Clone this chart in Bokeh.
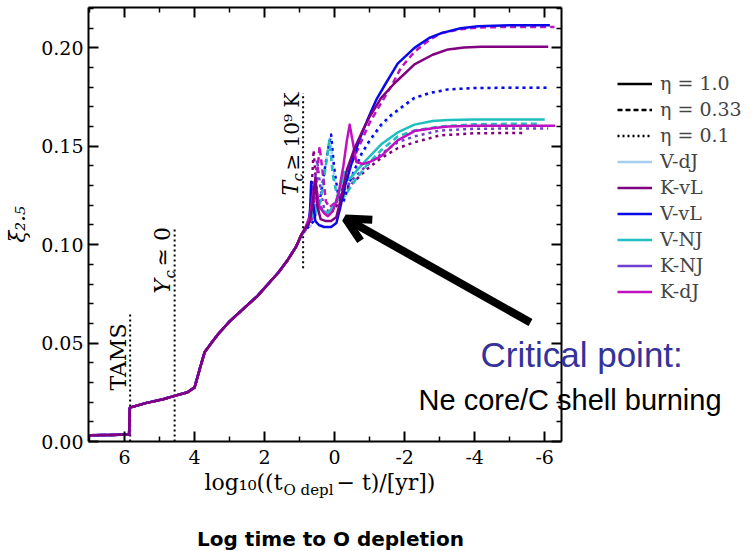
import numpy as np
from bokeh.plotting import figure
from bokeh.models import (Range1d, LinearAxis, FixedTicker, PrintfTickFormatter,
                          Legend, LegendItem, Label, Arrow, OpenHead)
from bokeh.embed import file_html
from bokeh.resources import INLINE

# ---------------- data ----------------
x_ticks = [6, 4, 2, 0, -2, -4, -6]
x_minor = [7, 5, 3, 1, -1, -3, -5]
y_ticks = [0.0, 0.05, 0.10, 0.15, 0.20]
y_minor = [0.01, 0.02, 0.03, 0.04, 0.06, 0.07, 0.08, 0.09, 0.11, 0.12, 0.13, 0.14,
           0.16, 0.17, 0.18, 0.19, 0.21, 0.22]

# common early evolution (all models overlap)
base_x = [7.0, 6.4, 5.87, 5.85, 5.4, 4.9, 4.57, 4.2, 4.0, 3.85, 3.71, 3.5, 3.33, 3.0,
          2.57, 2.2, 1.9, 1.6, 1.33, 1.1, 0.95]
base_y = [0.0032, 0.0033, 0.0035, 0.0172, 0.0195, 0.0215, 0.0232, 0.0250, 0.0275, 0.037,
          0.0455, 0.0505, 0.0545, 0.061, 0.068, 0.074, 0.080, 0.086, 0.0925, 0.099, 0.105]

# late evolution, per model / eta
vvl_1_x = [0.85, 0.75, 0.70, 0.67, 0.62, 0.55, 0.45, 0.3, 0.1, -0.05, -0.15, -0.3, -0.48,
           -0.7, -0.95, -1.2, -1.43, -1.8, -2.28, -2.7, -3.05, -3.6, -4.1, -5.0, -6.15]
vvl_1_y = [0.108, 0.110, 0.118, 0.132, 0.122, 0.112, 0.110, 0.109, 0.109, 0.111, 0.118,
           0.130, 0.141, 0.153, 0.164, 0.174, 0.181, 0.192, 0.200, 0.205, 0.2075, 0.210,
           0.211, 0.2115, 0.2115]

kvl_1_x = [0.85, 0.7, 0.60, 0.55, 0.50, 0.4, 0.25, 0.1, -0.05, -0.2, -0.35, -0.57, -0.8,
           -1.0, -1.33, -1.71, -2.28, -2.8, -3.24, -3.7, -4.19, -5.0, -6.1]
kvl_1_y = [0.108, 0.112, 0.125, 0.134, 0.120, 0.113, 0.112, 0.112, 0.114, 0.125, 0.138,
           0.149, 0.158, 0.165, 0.1746, 0.182, 0.1916, 0.1965, 0.1992, 0.2002, 0.2006,
           0.2006, 0.2006]

kdj_1_x = [0.85, 0.7, 0.6, 0.55, 0.45, 0.3, 0.19, 0.05, -0.1, -0.25, -0.35, -0.43, -0.52,
           -0.62, -0.8, -1.0, -1.33, -1.8, -2.28, -2.8, -3.24, -4.0, -5.0, -6.3]
kdj_1_y = [0.108, 0.115, 0.128, 0.133, 0.120, 0.116, 0.1145, 0.117, 0.125, 0.140, 0.153,
           0.161, 0.152, 0.142, 0.141, 0.142, 0.145, 0.153, 0.1577, 0.1592, 0.160, 0.1604,
           0.1604, 0.1604]

vnj_1_x = [0.85, 0.7, 0.55, 0.4, 0.2, 0.0, -0.15, -0.28, -0.4, -0.6, -0.9, -1.33, -1.8,
           -2.28, -2.8, -3.24, -4.0, -5.0, -6.0]
vnj_1_y = [0.108, 0.112, 0.120, 0.118, 0.116, 0.120, 0.128, 0.137, 0.133, 0.137, 0.143,
           0.151, 0.157, 0.161, 0.1628, 0.1633, 0.1636, 0.1636, 0.1636]

vnj_033_x = [0.85, 0.6, 0.4, 0.25, 0.15, 0.05, -0.1, -0.3, -0.6, -0.9, -1.33, -1.8, -2.28,
             -3.0, -4.0, -5.0, -5.85]
vnj_033_y = [0.108, 0.114, 0.122, 0.140, 0.153, 0.135, 0.122, 0.125, 0.133, 0.140, 0.148,
             0.155, 0.158, 0.160, 0.1612, 0.1614, 0.1614]

kdj_033_x = [0.85, 0.65, 0.5, 0.43, 0.35, 0.25, 0.15, 0.0, -0.2, -0.4, -0.7, -1.0, -1.33,
             -1.6, -1.9, -2.28, -2.7, -3.05, -3.6, -4.2, -5.0, -6.28]
kdj_033_y = [0.108, 0.113, 0.135, 0.150, 0.138, 0.122, 0.119, 0.121, 0.128, 0.138, 0.150,
             0.162, 0.172, 0.180, 0.190, 0.198, 0.204, 0.2075, 0.2095, 0.2104, 0.2106, 0.2106]

vvl_01_x = [0.85, 0.6, 0.4, 0.25, 0.15, 0.10, 0.02, -0.1, -0.25, -0.45, -0.76, -1.0, -1.33,
            -1.62, -2.0, -2.28, -2.7, -3.24, -4.0, -5.0, -6.05]
vvl_01_y = [0.107, 0.112, 0.125, 0.142, 0.152, 0.156, 0.140, 0.125, 0.122, 0.133, 0.146,
            0.153, 0.161, 0.166, 0.171, 0.1746, 0.177, 0.1789, 0.1796, 0.1797, 0.1797]

vdj_01_x = [0.85, 0.6, 0.4, 0.28, 0.18, 0.12, 0.04, -0.1, -0.25, -0.45, -0.76, -1.0, -1.33,
            -1.62, -2.0, -2.28, -2.7, -3.24, -4.0, -5.0, -6.1]
vdj_01_y = [0.107, 0.111, 0.122, 0.138, 0.150, 0.154, 0.138, 0.124, 0.121, 0.131, 0.145,
            0.152, 0.160, 0.165, 0.1705, 0.174, 0.1768, 0.1788, 0.1796, 0.1798, 0.1798]

knj_01_x = [0.85, 0.65, 0.5, 0.4, 0.3, 0.15, 0.0, -0.2, -0.5, -0.9, -1.33, -1.8, -2.28,
            -3.0, -4.0, -5.0, -6.1]
knj_01_y = [0.107, 0.115, 0.143, 0.128, 0.118, 0.117, 0.120, 0.126, 0.133, 0.140, 0.146,
            0.152, 0.155, 0.158, 0.1589, 0.159, 0.159]

kvl_01_x = [0.85, 0.7, 0.6, 0.5, 0.35, 0.2, 0.0, -0.2, -0.5, -0.9, -1.33, -1.8, -2.28,
            -3.0, -4.0, -5.47]
kvl_01_y = [0.107, 0.113, 0.148, 0.125, 0.117, 0.116, 0.118, 0.124, 0.131, 0.138, 0.144,
            0.149, 0.152, 0.1555, 0.1566, 0.1568]

# vertical phase markers
marker_x = [5.84, 4.57, 0.90]
marker_bottom = [0.0, 0.0, 0.088]
marker_top = [0.065, 0.108, 0.177]

model_names = ["V-dJ", "K-vL", "V-vL", "V-NJ", "K-NJ", "K-dJ"]
model_colors = ["#a6cdf2", "#800080", "#0a0ae8", "#1fbfbf", "#6e3fd0", "#c010c0"]
eta_names = ["η = 1.0", "η = 0.33", "η = 0.1"]

# ---------------- geometry ----------------
W, H = 753, 551
# data box (axes rectangle) in page pixels
BX0, BX1, BY0, BY1 = 88, 561, 441, 7
DX0, DX1, DY0, DY1 = 7.03, -6.48, 0.0, 0.2205
SX = (DX1 - DX0) / (BX1 - BX0)
SY = (DY1 - DY0) / (BY1 - BY0)
XL, XR = DX0 - BX0 * SX, DX0 + (W - BX0) * SX
YB, YT = DY0 + (H - BY0) * SY, DY0 - BY0 * SY


def px_to_x(px):
    return DX0 + (px - BX0) * SX


def px_to_y(py):
    return DY0 + (py - BY0) * SY


p = figure(width=W, height=H, min_border=0, x_axis_location=None, y_axis_location=None,
           x_range=Range1d(XL, XR), y_range=Range1d(YB, YT),
           output_backend="svg", toolbar_location=None)
p.grid.visible = False
p.outline_line_color = None
p.background_fill_color = "white"
p.border_fill_color = "white"


def make_axis(side, loc, bounds, ticks, minor, fmt, labels):
    ax = LinearAxis(fixed_location=loc, bounds=bounds,
                    ticker=FixedTicker(ticks=ticks, minor_ticks=minor),
                    formatter=PrintfTickFormatter(format=fmt))
    ax.axis_line_width = 2
    ax.axis_line_color = "black"
    ax.major_tick_in = 10
    ax.major_tick_out = 0
    ax.minor_tick_in = 5
    ax.minor_tick_out = 0
    ax.major_tick_line_width = 2
    ax.minor_tick_line_width = 1.5
    ax.major_tick_line_color = "black"
    ax.minor_tick_line_color = "black"
    ax.major_label_text_font = "DejaVu Serif"
    ax.major_label_text_font_size = "19px"
    ax.major_label_text_color = "black" if labels else None
    p.add_layout(ax, side)
    return ax


xb = (min(DX0, DX1), max(DX0, DX1))
yb = (DY0, DY1)
ax_b = make_axis("below", DY0, xb, x_ticks, x_minor, "%d", True)
ax_b.major_label_standoff = 8
ax_l = make_axis("left", DX0, yb, y_ticks, y_minor, "%.2f", True)
ax_l.major_label_standoff = 5
make_axis("above", DY1, xb, x_ticks, x_minor, "%d", False)
make_axis("right", DX1, yb, y_ticks, y_minor, "%.2f", False)

# phase markers
p.segment(x0=marker_x, y0=marker_bottom, x1=marker_x, y1=marker_top,
          line_color="black", line_width=2, line_dash="2 3")

SOLID, DASH, DOT = "solid", "6 4", "3 4"
series = [
    (vdj_01_x, vdj_01_y, "#a6cdf2", DOT, 0),
    (vvl_01_x, vvl_01_y, "#0a0ae8", DOT, 3),
    (kvl_01_x, kvl_01_y, "#800080", DOT, 0),
    (knj_01_x, knj_01_y, "#6e3fd0", DOT, 0),
    (vnj_033_x, vnj_033_y, "#1fbfbf", DASH, 0),
    (kdj_033_x, kdj_033_y, "#c010c0", DASH, 0),
    (vnj_1_x, vnj_1_y, "#1fbfbf", SOLID, 0),
    (vvl_1_x, vvl_1_y, "#0a0ae8", SOLID, 0),
    (kdj_1_x, kdj_1_y, "#c010c0", SOLID, 0),
    (kvl_1_x, kvl_1_y, "#800080", SOLID, 0),
]
for tx, ty, col, dash, off in series:
    p.line(x=base_x + tx, y=base_y + ty, line_color=col, line_width=2.5,
           line_dash=dash, line_dash_offset=off, line_join="round")

# legend: style-only renderers (a single NaN point draws nothing in the plot)
items = []
for name, dash in zip(eta_names, [SOLID, "5 3", "2 3"]):
    r = p.line(x=[np.nan], y=[np.nan], line_color="black", line_width=2.5, line_dash=dash)
    items.append(LegendItem(label=name, renderers=[r]))
for name, col in zip(model_names, model_colors):
    r = p.line(x=[np.nan], y=[np.nan], line_color=col, line_width=2.5)
    items.append(LegendItem(label=name, renderers=[r]))

legend = Legend(items=items, location=(617, H - 302), padding=0, margin=0, spacing=4,
                glyph_width=35, glyph_height=21, label_height=21, label_standoff=8,
                label_text_font="DejaVu Serif", label_text_font_size="19px",
                background_fill_alpha=0, border_line_alpha=0)
p.add_layout(legend)

V = np.pi / 2


def lab(px, py, text, size, font="DejaVu Serif", style="normal", angle=0.0,
        align="left", color="black"):
    # (px, py) is the wanted baseline point; Bokeh anchors such labels near the
    # middle of the text, so move the anchor up (or left, when rotated).
    shift = 0.35 * size
    if angle == 0.0:
        py = py - shift
    else:
        px = px - shift
    p.add_layout(Label(x=px_to_x(px), y=px_to_y(py), text=text, text_font=font,
                       text_font_size=f"{size}px", text_font_style=style, angle=angle,
                       text_align=align, text_baseline="alphabetic", text_color=color))


# rotated phase labels
lab(126, 390, "TAMS", 22, angle=V)
lab(170, 293, "Y", 22, style="italic", angle=V)
lab(175, 278, "c", 15, style="italic", angle=V)
lab(170, 266, "≃ 0", 22, angle=V)
lab(298, 195, "T", 22, style="italic", angle=V)
lab(303, 181, "c", 15, style="italic", angle=V)
lab(298, 170, "≥ 10⁹ K", 20, angle=V)

# y axis label
lab(25, 224, "ξ₂.₅", 22, style="italic", angle=V, align="center")

# x axis label (composed)
lab(204, 490, "log₁₀((t", 22)
lab(283, 495, "O depl", 15)
lab(336, 490, "− t)/[yr])", 22)

# bottom caption
lab(330, 545, "Log time to O depletion", 20, font="DejaVu Sans", style="bold",
    align="center")

# critical point annotation
lab(480, 366, "Critical point:", 35, font="Liberation Sans", color="#33339a")
lab(418, 410, "Ne core/C shell burning", 29, font="Liberation Sans")

p.add_layout(Arrow(end=OpenHead(size=24, line_width=8, line_color="black"),
                   x_start=px_to_x(530), y_start=px_to_y(322),
                   x_end=px_to_x(345), y_end=px_to_y(218),
                   line_width=8, line_color="black"))

open("out.html", "w").write(file_html(p, INLINE))
